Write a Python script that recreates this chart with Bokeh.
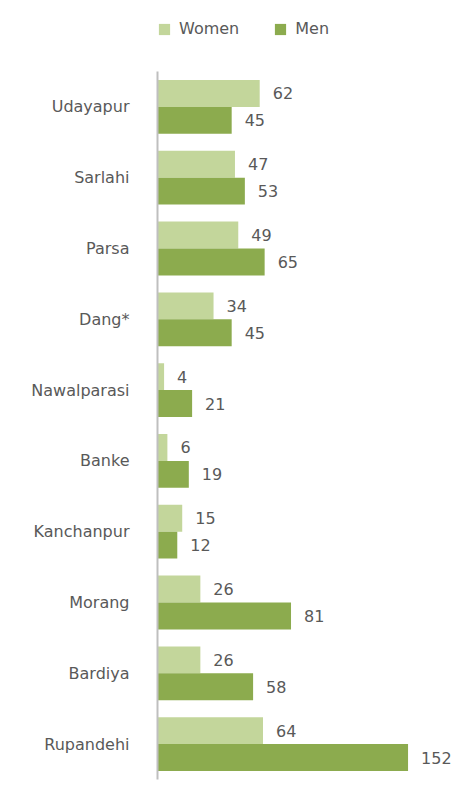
from bokeh.plotting import figure
from bokeh.models import ColumnDataSource, FactorRange, Range1d, Legend, LegendItem
from bokeh.layouts import column
from bokeh.transform import dodge
from bokeh.core.properties import value
from bokeh.embed import file_html
from bokeh.resources import INLINE

districts = ["Udayapur", "Sarlahi", "Parsa", "Dang*", "Nawalparasi", "Banke",
             "Kanchanpur", "Morang", "Bardiya", "Rupandehi"]
women = [62, 47, 49, 34, 4, 6, 15, 26, 26, 64]
men = [45, 53, 65, 45, 21, 19, 12, 81, 58, 152]
series_names = ["Women", "Men"]

WOMEN_COLOR = "#c3d69b"
MEN_COLOR = "#8cab4e"
TEXT_COLOR = "#595959"
FONT = "DejaVu Sans"

src = ColumnDataSource(dict(district=districts, women=women, men=men,
                            women_lbl=[str(v) for v in women],
                            men_lbl=[str(v) for v in men]))

# ---------- legend strip (swatch renderers sit outside the visible range) ----------
leg = figure(width=457, height=50, output_backend="svg", toolbar_location=None,
             x_range=Range1d(0, 1), y_range=Range1d(0, 1),
             min_border_left=157, min_border_right=0, min_border_top=0, min_border_bottom=0)
leg.axis.visible = False
leg.grid.visible = False
leg.outline_line_color = None
swatch = ColumnDataSource(dict(y=[-10], right=[1]))
dw = leg.hbar(y="y", right="right", height=1, source=swatch, fill_color=WOMEN_COLOR, line_color=None)
dm = leg.hbar(y="y", right="right", height=1, source=swatch, fill_color=MEN_COLOR, line_color=None)
legend = Legend(items=[LegendItem(label=series_names[0], renderers=[dw]),
                       LegendItem(label=series_names[1], renderers=[dm])],
                orientation="horizontal", location=(0, 12),
                glyph_width=14, glyph_height=14, spacing=34, label_standoff=8,
                label_text_font=FONT, label_text_font_size="16px",
                label_text_color=TEXT_COLOR, border_line_color=None,
                background_fill_alpha=0, margin=0, padding=3)
leg.add_layout(legend, "center")

# ---------- main chart ----------
p = figure(width=457, height=737, output_backend="svg", toolbar_location=None,
           y_range=FactorRange(*list(reversed(districts))),
           x_range=Range1d(0, 182),
           min_border_left=157, min_border_right=0, min_border_top=21,
           min_border_bottom=8)

off = 0.19
h = 0.38
rw = p.hbar(y=dodge("district", off, range=p.y_range), right="women", left=0, height=h,
            source=src, fill_color=WOMEN_COLOR, line_color=None)
rm = p.hbar(y=dodge("district", -off, range=p.y_range), right="men", left=0, height=h,
            source=src, fill_color=MEN_COLOR, line_color=None)

p.text(x="women", y=dodge("district", off, range=p.y_range), text="women_lbl", source=src,
       x_offset=13, text_baseline="middle", text_font=value(FONT), text_font_size="16px",
       text_color=TEXT_COLOR)
p.text(x="men", y=dodge("district", -off, range=p.y_range), text="men_lbl", source=src,
       x_offset=13, text_baseline="middle", text_font=value(FONT), text_font_size="16px",
       text_color=TEXT_COLOR)

p.xaxis.visible = False
p.xgrid.visible = False
p.ygrid.visible = False
p.outline_line_color = None
ax = p.yaxis[0]
ax.axis_line_color = "#bfbfbf"
ax.axis_line_width = 2
ax.major_tick_line_color = None
ax.minor_tick_line_color = None
ax.major_label_standoff = 22
ax.major_label_text_font = FONT
ax.major_label_text_font_size = "16px"
ax.major_label_text_color = TEXT_COLOR

layout = column(leg, p, spacing=0)
open("out.html", "w").write(file_html(layout, INLINE))
